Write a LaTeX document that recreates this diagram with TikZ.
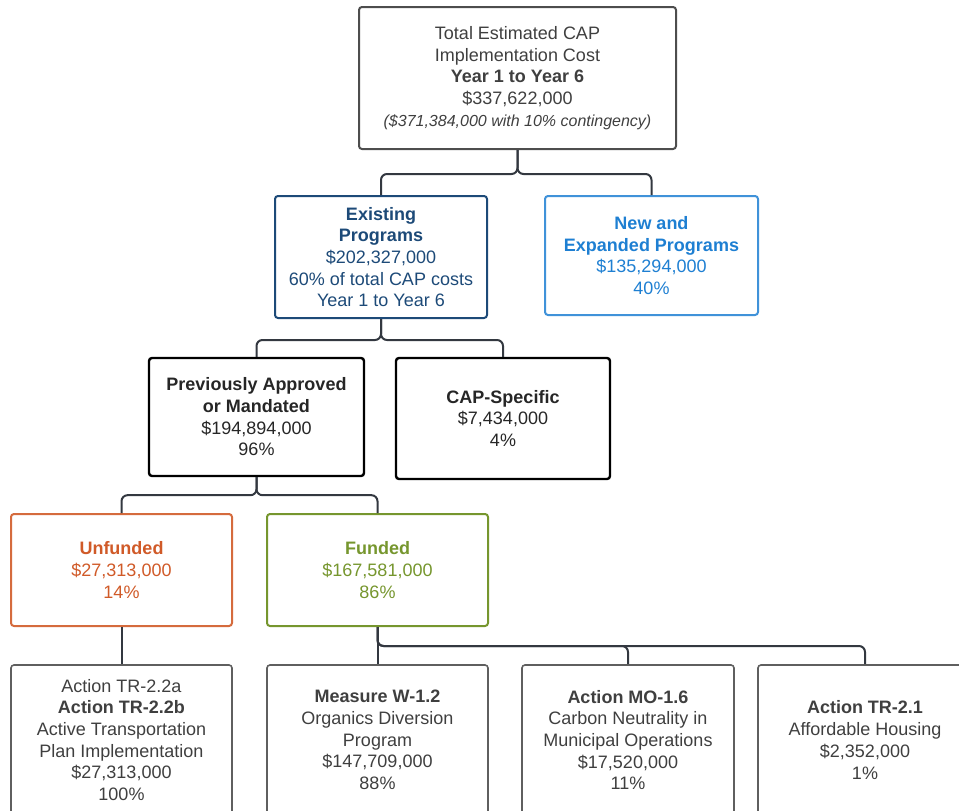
\documentclass[tikz,border=0pt]{standalone}
\usepackage{fontspec}
\setmainfont{Liberation Sans}
\usepackage{xcolor}
\usetikzlibrary{positioning}

\definecolor{txtgray}{HTML}{3F3F3F}
\definecolor{edgegray}{HTML}{4D4D4D}
\definecolor{linkgray}{HTML}{333840}
\definecolor{darkblue}{HTML}{1D4A78}
\definecolor{brightblue}{HTML}{1E7FD2}
\definecolor{orangered}{HTML}{D05A28}
\definecolor{olivegreen}{HTML}{76962E}

\begin{document}
\begin{tikzpicture}[x=1pt, y=-1pt,
  box/.style={draw, rounded corners=3pt, line width=2pt, align=center, inner sep=0pt,
    text=txtgray, font=\fontsize{18}{21.7}\selectfont},
  leaf/.style={box, draw=edgegray!90, line width=1.6pt, minimum height=150pt},
  conn/.style={draw=linkgray, line width=2pt, rounded corners=6pt}]
  \path[use as bounding box, clip] (0,0) rectangle (959,811);

  % top level
  \node (total) [box, draw=edgegray, minimum width=317pt, minimum height=142pt] at (517.5,78)
    {Total Estimated CAP\\ Implementation Cost\\ \textbf{Year 1 to Year 6}\\ \$337,622,000\\
     {\fontsize{16}{21.7}\selectfont\itshape (\$371,384,000 with 10\% contingency)}};

  % programs
  \node (exist) [box, draw=darkblue, text=darkblue, minimum width=212pt, minimum height=122pt] at (381,257)
    {\textbf{Existing}\\ \textbf{Programs}\\ \$202,327,000\\ 60\% of total CAP costs\\ Year 1 to Year 6};
  \node (new) [box, draw=brightblue!85, text=brightblue, minimum width=213pt, minimum height=119pt] at (651.5,255.5)
    {\textbf{New and}\\ \textbf{Expanded Programs}\\ \$135,294,000\\ 40\%};

  % existing split
  \node (prev) [box, draw=black, text=black!85, line width=2.4pt, minimum width=215pt, minimum height=118pt] at (256.5,417)
    {\textbf{Previously Approved}\\ \textbf{or Mandated}\\ \$194,894,000\\ 96\%};
  \node (capspec) [box, draw=black, text=black!85, line width=2.4pt, minimum width=214pt, minimum height=121pt] at (503,418.5)
    {\textbf{CAP-Specific}\\ \$7,434,000\\ 4\%};

  % funding
  \node (unfund) [box, draw=orangered!90, text=orangered, minimum width=221pt, minimum height=112pt] at (121.5,570)
    {\textbf{Unfunded}\\ \$27,313,000\\ 14\%};
  \node (fund) [box, draw=olivegreen, text=olivegreen, minimum width=221pt, minimum height=112pt] at (377.5,570)
    {\textbf{Funded}\\ \$167,581,000\\ 86\%};

  % actions
  \node (tr22) [leaf, minimum width=221pt] at (121.5,740)
    {Action TR-2.2a\\ \textbf{Action TR-2.2b}\\ Active Transportation\\ Plan Implementation\\ \$27,313,000\\ 100\%};
  \node (meas) [leaf, minimum width=221pt] at (377.5,740)
    {\textbf{Measure W-1.2}\\ Organics Diversion\\ Program\\ \$147,709,000\\ 88\%};
  \node (mo) [leaf, minimum width=212pt] at (628,740)
    {\textbf{Action MO-1.6}\\ Carbon Neutrality in\\ Municipal Operations\\ \$17,520,000\\ 11\%};
  \node (tr21) [leaf, minimum width=214pt] at (865,740)
    {\textbf{Action TR-2.1}\\ Affordable Housing\\ \$2,352,000\\ 1\%};

  % connectors
  \draw[conn] (total.south) -- ++(0,24) -| (exist.north);
  \draw[conn] (total.south) -- ++(0,24) -| (new.north);
  \draw[conn] (exist.south) -- ++(0,21) -| (prev.north);
  \draw[conn] (exist.south) -- ++(0,21) -| (capspec.north);
  \draw[conn] (prev.south) -- ++(0,18) -| (unfund.north);
  \draw[conn] (prev.south) -- ++(0,18) -| (fund.north);
  \draw[conn] (unfund.south) -- (tr22.north);
  \draw[conn] (fund.south) -- (meas.north);
  \draw[conn] (fund.south) -- ++(0,19) -| (mo.north);
  \draw[conn] (fund.south) -- ++(0,19) -| (tr21.north);
\end{tikzpicture}
\end{document}
